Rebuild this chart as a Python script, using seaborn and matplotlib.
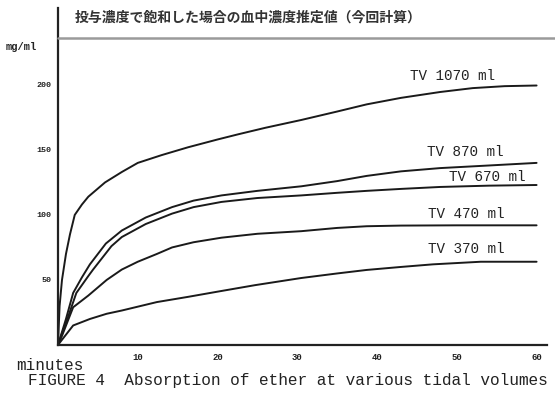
import matplotlib
matplotlib.use("Agg")
import matplotlib.pyplot as plt
from matplotlib.lines import Line2D
import seaborn as sns
import pandas as pd

# Blood ether concentration (mg/ml) against time (minutes) for each tidal volume
t_1070 = [0, 0.2, 0.5, 1, 1.5, 2.1, 3, 3.8, 5.9, 8, 10, 13, 16.3, 20, 22.6, 26, 30.5, 35, 38.7, 43, 47.9, 52, 56, 60]
v_1070 = [0, 30, 50, 70, 85, 100, 108, 114, 125, 133, 140, 146, 152, 158, 162, 167, 173, 179.5, 185, 190, 194.5, 197.5, 199, 199.5]

t_870 = [0, 0.5, 1, 1.9, 3, 4, 6, 8, 11, 14.3, 17, 20.5, 25, 30.5, 35, 38.7, 43, 47.9, 54, 60]
v_870 = [0, 10, 20, 40, 52, 62, 78, 88, 98, 106, 111, 115, 118.5, 122, 126, 130, 133.5, 136, 138, 140]

t_670 = [0, 0.5, 1, 2.3, 3.8, 4.4, 6.7, 8, 11, 14.3, 17, 20.5, 25, 30.5, 35, 38.7, 43, 47.9, 54, 60]
v_670 = [0, 9, 17, 40, 53, 58, 76, 83, 93, 101, 106, 110, 113, 115, 117, 118.5, 120, 121.5, 122.5, 123]

t_470 = [0, 0.5, 1.9, 3.8, 6.1, 8, 10, 12.4, 14.3, 17, 20.5, 25, 30.5, 35, 38.7, 43, 50, 60]
v_470 = [0, 7, 29, 38, 50, 58, 64, 70, 75, 79, 82.5, 85.5, 87.5, 90, 91.3, 91.8, 92, 92]

t_370 = [0, 0.5, 1.9, 4, 6.1, 8, 12.4, 16.3, 20, 24.7, 30.5, 35, 38.7, 43, 47, 53, 60]
v_370 = [0, 4, 15, 20, 24, 26.5, 33, 37, 41, 46, 51.5, 55, 57.7, 60, 62, 64, 64]

series_names = ["TV 1070 ml", "TV 870 ml", "TV 670 ml", "TV 470 ml", "TV 370 ml"]
y_ticks = [50, 100, 150, 200]
x_ticks = [10, 20, 30, 40, 50, 60]
x_minor = [5, 15, 25, 35, 45, 55]

title_text = "投与濃度で飽和した場合の血中濃度推定値（今回計算）"
unit_text = "mg/ml"
xlabel_text = "minutes"
caption_text = "FIGURE 4  Absorption of ether at various tidal volumes"

frames = []
for name, t, v in zip(series_names,
                      [t_1070, t_870, t_670, t_470, t_370],
                      [v_1070, v_870, v_670, v_470, v_370]):
    frames.append(pd.DataFrame({"minutes": t, "conc": v, "tv": name}))
df = pd.concat(frames, ignore_index=True)

sns.set_style("white")
plt.rcParams["font.family"] = ["Liberation Mono", "DejaVu Sans"]

fig = plt.figure(figsize=(5.55, 3.94), dpi=100)
ax = fig.add_axes([0.1045, 0.1244, 0.881, 0.855])

sns.lineplot(data=df, x="minutes", y="conc", hue="tv", hue_order=series_names,
             palette=["#1a1a1a"] * len(series_names), linewidth=1.4,
             legend=False, sort=False, ax=ax)

ax.set_xlim(0, 61.3)
ax.set_ylim(0, 259)
for s in ["top", "right"]:
    ax.spines[s].set_visible(False)
for s in ["left", "bottom"]:
    ax.spines[s].set_color("#222222")
    ax.spines[s].set_linewidth(1.6)

ax.set_yticks(y_ticks)
ax.set_yticklabels([str(y) for y in y_ticks], fontsize=6, fontweight="bold", color="#222222")
ax.set_xticks(x_ticks)
ax.set_xticklabels([str(x) for x in x_ticks], fontsize=6.5, fontweight="bold", color="#222222")
ax.set_xticks(x_minor, minor=True)
ax.tick_params(axis="y", which="major", direction="out", length=3, width=1.2, pad=2, color="#222222")
ax.tick_params(axis="x", which="major", direction="inout", length=4, width=1.2, pad=4, color="#222222")
ax.tick_params(axis="x", which="minor", direction="inout", length=3, width=1.0, color="#444444")
ax.set_xlabel("")
ax.set_ylabel("")

# Curve labels placed just above the right-hand end of each curve
label_pos = {
    "TV 1070 ml": (49.5, 207),
    "TV 870 ml": (51.0, 148),
    "TV 670 ml": (53.8, 129),
    "TV 470 ml": (51.2, 101),
    "TV 370 ml": (51.2, 74),
}
for name in series_names:
    x, y = label_pos[name]
    ax.text(x, y, name, ha="center", va="center", fontsize=10.3,
            color="#222222", family="Liberation Mono")

# Rule under the heading, running to the right edge
fig.add_artist(Line2D([0.1045, 1.0], [1 - 38 / 394, 1 - 38 / 394],
                      color="#9a9a9a", linewidth=1.8))

fig.text(0.135, 1 - 18 / 394, title_text, ha="left", va="center", fontsize=10,
         fontweight="bold", color="#333333", family=["Noto Sans CJK JP", "DejaVu Sans"])
fig.text(0.038, 1 - 47 / 394, unit_text, ha="center", va="center", fontsize=7.5,
         fontweight="bold", color="#222222")
fig.text(0.09, 1 - 365 / 394, xlabel_text, ha="center", va="center", fontsize=11.5,
         color="#222222")
fig.text(0.518, 1 - 380 / 394, caption_text, ha="center", va="center", fontsize=11.6,
         color="#222222")

fig.savefig("out.png", dpi=100, facecolor="white")
